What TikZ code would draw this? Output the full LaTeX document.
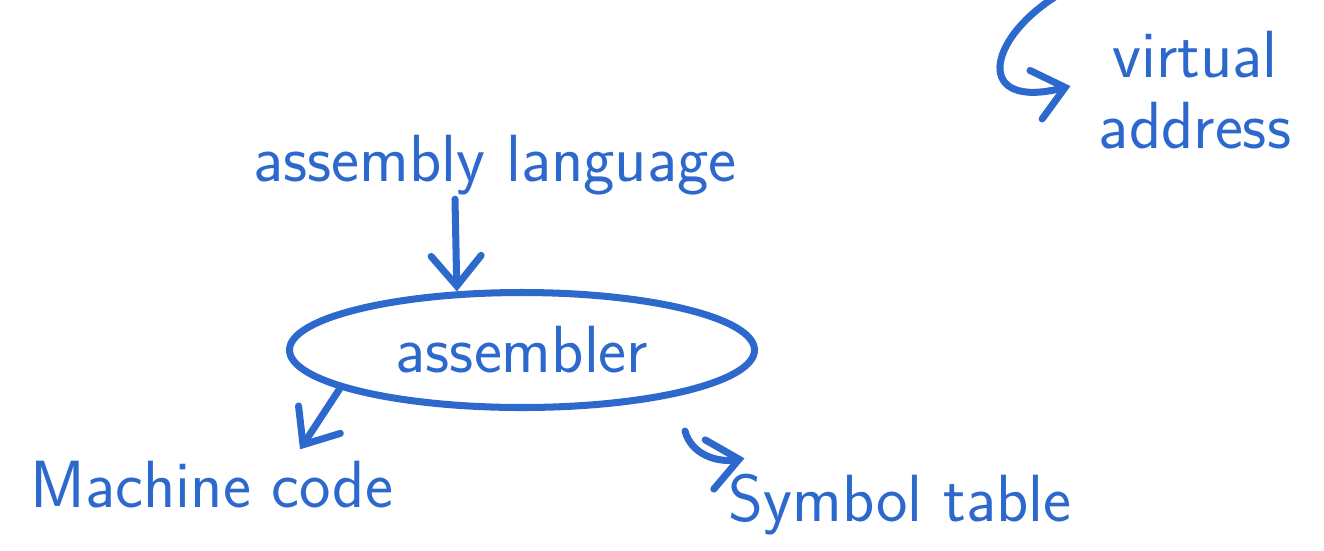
\documentclass[tikz,border=0pt]{standalone}
\usepackage{tikz}
\usetikzlibrary{positioning}
\usetikzlibrary{shapes}
\usetikzlibrary{arrows.meta}
\usepackage{xcolor}
\definecolor{marker}{RGB}{45,105,205}

\begin{document}
\begin{tikzpicture}[every node/.style={text=marker, font=\sffamily\fontsize{19}{20}\selectfont, inner sep=1pt},
        arr/.style={draw=marker, line width=2pt, line cap=round, -{Straight Barb[length=3mm,width=5mm,line cap=round]}}]
            \useasboundingbox (0, 0) rectangle (13.24, 5.5);

            \node (lang) at (4.95, 3.85) {assembly language};
            \node[ellipse, draw=marker, line width=2pt, minimum width=4.65cm, minimum height=1.15cm, inner sep=0pt] (asm) at (5.22, 2.0) {assembler};
            \draw[arr] ([xshift=-4mm]lang.south) -- (asm.138);

            \node (code) at (2.12, 0.65) {Machine code};
            \node (table) at (9.0, 0.45) {Symbol table};
            \draw[arr] (asm.192) -- ([shift={(0.88, 0.08)}]code.north);
            \draw[arr] ([shift={(1.63, -0.2)}]asm.south) to[out=-75, in=190] ([shift={(0.2, 0.12)}]table.north west);

            \node[align=center] (virt) at (11.95, 4.6) {virtual\\address};
            \coordinate (top) at (10.58, 5.55);
            \draw[arr, shorten >=2.5mm] (top) .. controls (9.85, 5.1) and (9.75, 4.4) .. ([yshift=1mm]virt.west);
        \end{tikzpicture}
\end{document}
